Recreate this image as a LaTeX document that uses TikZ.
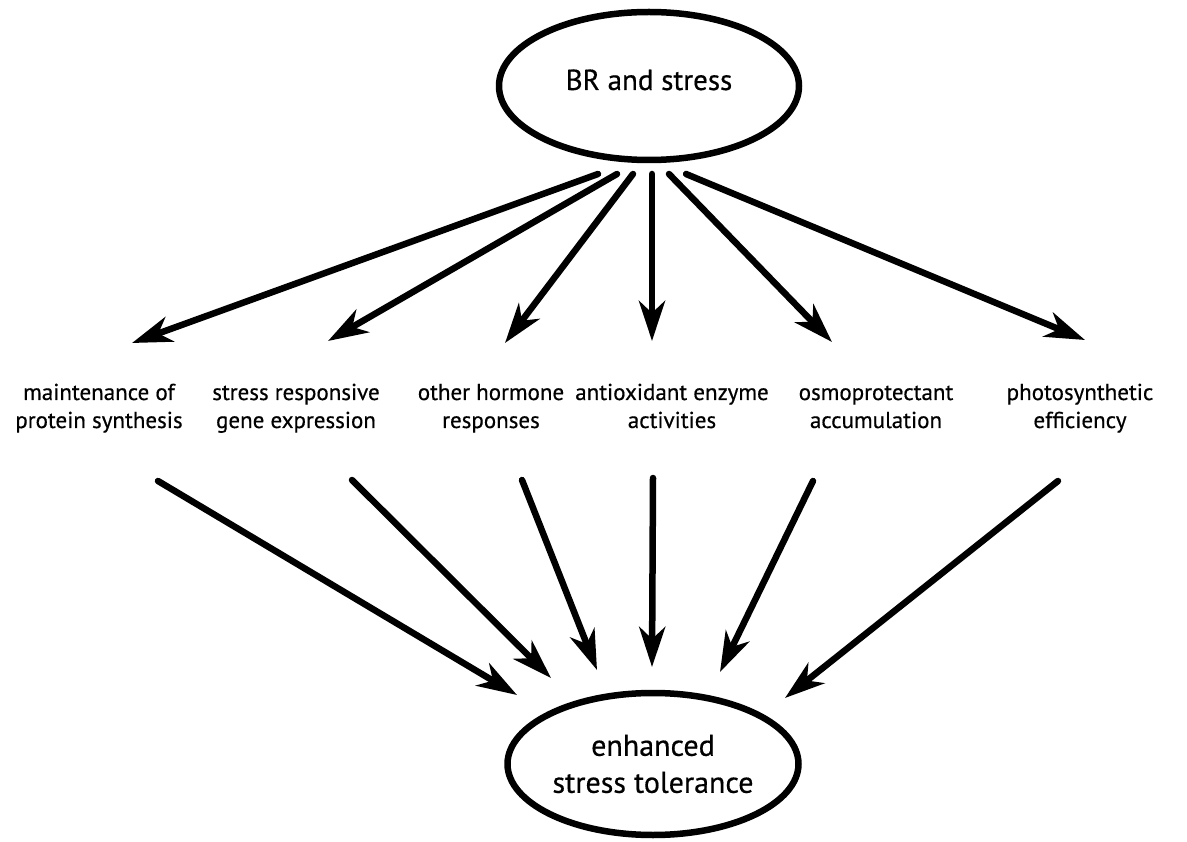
\documentclass[tikz,border=0pt]{standalone}
\usepackage{fontspec}
\setmainfont{PT Sans}[FakeBold=0.5]
\usetikzlibrary{arrows.meta,shapes.geometric}
\tikzset{
  oval/.style={ellipse, draw, line width=6.5pt, inner sep=0pt, align=center},
  lbl/.style={align=center, inner sep=0pt, font=\fontsize{23}{28}\selectfont},
  arr/.style={line width=6.5pt, line cap=round,
    -{Stealth[length=40pt,width=26pt,inset=12pt]}}
}
\begin{document}
\begin{tikzpicture}[x=1pt,y=-1pt]
\useasboundingbox (0,0) rectangle (1187,842);
% ellipses
\node[oval, minimum width=300pt, minimum height=148pt,
  font=\fontsize{29}{35}\selectfont, text height=16pt, text depth=8pt]
  (top) at (649,86) {BR and stress};
\node[oval, minimum width=291pt, minimum height=142pt,
  font=\fontsize{30}{37}\selectfont]
  (bot) at (653,764) {enhanced\\stress tolerance};
% labels
\node[lbl] (l1) at (99,408.4)  {\strut maintenance of\\\strut protein synthesis};
\node[lbl] (l2) at (296,408.4) {\strut stress responsive\\\strut gene expression};
\node[lbl] (l3) at (491,408.4) {\strut other hormone\\\strut responses};
\node[lbl] (l4) at (672,408.4) {\strut antioxidant enzyme\\\strut activities};
\node[lbl] (l5) at (876,408.4) {\strut osmoprotectant\\\strut accumulation};
\node[lbl] (l6) at (1080,408.4){\strut photosynthetic\\\strut efficiency};
% arrow start points under the top ellipse
\coordinate (s1) at (598,174);
\coordinate (s2) at (617,174);
\coordinate (s3) at (633,174);
\coordinate (s4) at (652,174);
\coordinate (s5) at (669,174);
\coordinate (s6) at (686,174);
% tips above the labels
\coordinate (t1) at (132,343);
\coordinate (t2) at (328,341);
\coordinate (t3) at (505,343);
\coordinate (t4) at (652,341);
\coordinate (t5) at (832,342);
\coordinate (t6) at (1085,340);
% starts below the labels
\coordinate (u1) at (158,481);
\coordinate (u2) at (352,480);
\coordinate (u3) at (522,480);
\coordinate (u4) at (653,478);
\coordinate (u5) at (813,481);
\coordinate (u6) at (1058,481);
% tips above the bottom ellipse
\coordinate (v1) at (517,695);
\coordinate (v2) at (551,678);
\coordinate (v3) at (597,670);
\coordinate (v4) at (652,667);
\coordinate (v5) at (720,672);
\coordinate (v6) at (785,698);
\foreach \i in {1,...,6}{
  \draw[arr] (s\i) -- (t\i);
  \draw[arr] (u\i) -- (v\i);
}
\end{tikzpicture}
\end{document}
